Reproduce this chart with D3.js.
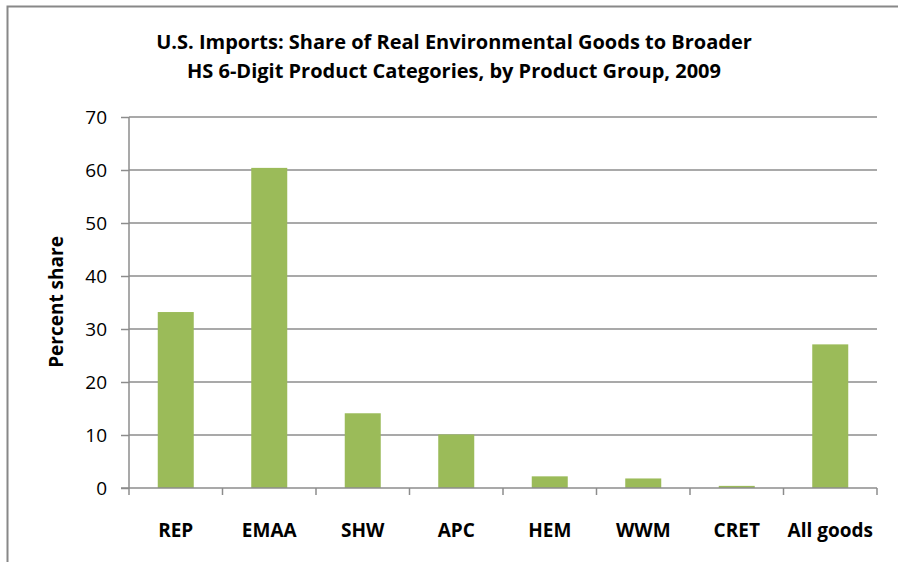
<!DOCTYPE html>
<html><head><meta charset="utf-8">
<script src="https://cdn.jsdelivr.net/npm/d3@7"></script>
<style>body{margin:0;background:#fff}svg{display:block}text{font-family:"Open Sans",sans-serif}</style>
</head><body><svg id="c" width="898" height="562"></svg>
<script>
const categories = ["REP","EMAA","SHW","APC","HEM","WWM","CRET","All goods"];
const values = [33.2, 60.4, 14.1, 10.1, 2.2, 1.8, 0.4, 27.1];
const yTicks = [0,10,20,30,40,50,60,70];
const titleLines = ["U.S. Imports: Share of Real Environmental Goods to Broader","HS 6-Digit Product Categories, by Product Group, 2009"];

const svg = d3.select("#c");
const L = 129, R = 877, T = 117, B = 488;
svg.append("path").attr("d","M7.5,562 V6.5 H898").attr("fill","none").attr("stroke","#888").attr("stroke-width",2);

const x = d3.scaleBand().domain(categories).range([L,R]).paddingInner(0.615).paddingOuter(0.3075);
const y = d3.scaleLinear().domain([0,70]).range([B,T]);

svg.append("g").selectAll("line").data(yTicks.filter(d=>d>0)).join("line")
  .attr("x1",L).attr("x2",R).attr("y1",d=>y(d)).attr("y2",d=>y(d))
  .attr("stroke","#8c8c8c").attr("stroke-width",1.5);

svg.append("g").selectAll("rect").data(values).join("rect")
  .attr("x",(d,i)=>x(categories[i])).attr("width",x.bandwidth())
  .attr("y",d=>y(d)).attr("height",d=>B-y(d))
  .attr("fill","#9bbb59");

const ya = svg.append("g").attr("transform",`translate(${L},0)`)
  .call(d3.axisLeft(y).tickValues(yTicks).tickSize(8).tickPadding(14));
ya.select(".domain").attr("stroke","#8c8c8c").attr("stroke-width",1.5).attr("d",`M0,${T}V${B}`);
ya.selectAll(".tick line").attr("stroke","#8c8c8c").attr("stroke-width",1.5);
ya.selectAll(".tick text").attr("font-size",19).attr("fill","#000").attr("font-family","Open Sans");

const xa = svg.append("g").attr("transform",`translate(0,${B})`);
xa.append("line").attr("x1",L-8).attr("x2",R).attr("y1",0).attr("y2",0).attr("stroke","#8c8c8c").attr("stroke-width",1.5);
const bounds = categories.map((c,i)=>L + i*x.step()).concat([R]);
xa.selectAll("line.t").data(bounds).join("line").attr("class","t")
  .attr("x1",d=>d).attr("x2",d=>d).attr("y1",0).attr("y2",7).attr("stroke","#8c8c8c").attr("stroke-width",1.5);
xa.selectAll("text").data(categories).join("text")
  .attr("x",d=>x(d)+x.bandwidth()/2).attr("y",49).attr("text-anchor","middle")
  .attr("font-size",19).attr("font-weight","bold").text(d=>d);

svg.append("text").attr("transform","translate(63,302) rotate(-90)").attr("text-anchor","middle")
  .attr("font-size",19).attr("font-weight","bold").text("Percent share");

svg.append("g").selectAll("text").data(titleLines).join("text")
  .attr("x",454).attr("y",(d,i)=>49+i*29).attr("text-anchor","middle")
  .attr("font-size",20).attr("font-weight","bold").text(d=>d);
</script></body></html>
